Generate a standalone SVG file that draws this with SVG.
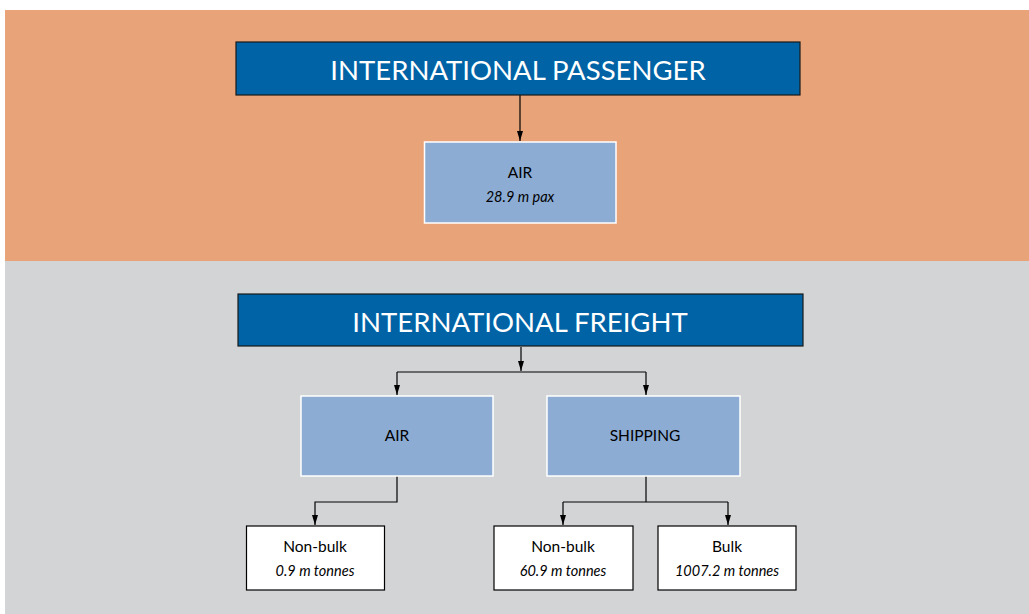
<svg xmlns="http://www.w3.org/2000/svg" width="1029" height="614" viewBox="0 0 1029 614">
<defs>
<marker id="ah" viewBox="0 0 10 6" refX="10" refY="3" markerWidth="10" markerHeight="6" markerUnits="userSpaceOnUse" orient="auto">
<path d="M0,0 L10,3 L0,6 Z" fill="#000"/>
</marker>
<style>
.hdr{fill:#0063A6;stroke:#1a1a1a;stroke-width:1.2}
.lb{fill:#8CACD4;stroke:#ffffff;stroke-width:1.5}
.wb{fill:#ffffff;stroke:#000;stroke-width:1.2}
.ht{font-family:Lato,"Open Sans",sans-serif;font-size:27.5px;fill:#fff;text-anchor:middle}
.t{font-family:Lato,"Open Sans",sans-serif;font-size:15.5px;fill:#000;text-anchor:middle}
.i{font-family:Lato,"Open Sans",sans-serif;font-size:14.5px;font-style:italic;fill:#000;text-anchor:middle}
.c{fill:none;stroke:#000;stroke-width:1.2}
</style>
</defs>
<rect x="0" y="0" width="1029" height="614" fill="#ffffff"/>
<rect x="5" y="10" width="1024" height="251" fill="#E8A378"/>
<rect x="5" y="261" width="1024" height="353" fill="#D3D4D6"/>
<g id="connectors">
<path class="c" d="M520,95 V141" marker-end="url(#ah)"/>
<path class="c" d="M521,347 V371" marker-end="url(#ah)"/>
<path class="c" d="M397,372 H646"/>
<path class="c" d="M397,372 V395" marker-end="url(#ah)"/>
<path class="c" d="M646,372 V395" marker-end="url(#ah)"/>
<path class="c" d="M397,476 V502 H315 V525" marker-end="url(#ah)"/>
<path class="c" d="M646,476 V502"/>
<path class="c" d="M563,502 H728"/>
<path class="c" d="M563,502 V525" marker-end="url(#ah)"/>
<path class="c" d="M728,502 V525" marker-end="url(#ah)"/>
</g>
<g id="passenger-header">
<rect class="hdr" x="236" y="42" width="564" height="53"/>
<text class="ht" x="518" y="80">INTERNATIONAL PASSENGER</text>
</g>
<g id="passenger-air">
<rect class="lb" x="424.5" y="142" width="191.5" height="81"/>
<text class="t" x="520" y="178">AIR</text>
<text class="i" x="520" y="202">28.9 m pax</text>
</g>
<g id="freight-header">
<rect class="hdr" x="238" y="294" width="565" height="52"/>
<text class="ht" x="520" y="332">INTERNATIONAL FREIGHT</text>
</g>
<g id="freight-air">
<rect class="lb" x="301" y="396" width="192" height="80"/>
<text class="t" x="397" y="441">AIR</text>
</g>
<g id="freight-shipping">
<rect class="lb" x="547" y="396" width="193" height="80"/>
<text class="t" x="645" y="441">SHIPPING</text>
</g>
<g id="air-nonbulk">
<rect class="wb" x="246.5" y="526" width="138" height="64"/>
<text class="t" x="315" y="552">Non-bulk</text>
<text class="i" x="315" y="576">0.9 m tonnes</text>
</g>
<g id="ship-nonbulk">
<rect class="wb" x="494" y="526" width="139" height="64"/>
<text class="t" x="563" y="552">Non-bulk</text>
<text class="i" x="563" y="576">60.9 m tonnes</text>
</g>
<g id="ship-bulk">
<rect class="wb" x="658" y="526" width="138" height="64"/>
<text class="t" x="727" y="552">Bulk</text>
<text class="i" x="727" y="576">1007.2 m tonnes</text>
</g>
</svg>
